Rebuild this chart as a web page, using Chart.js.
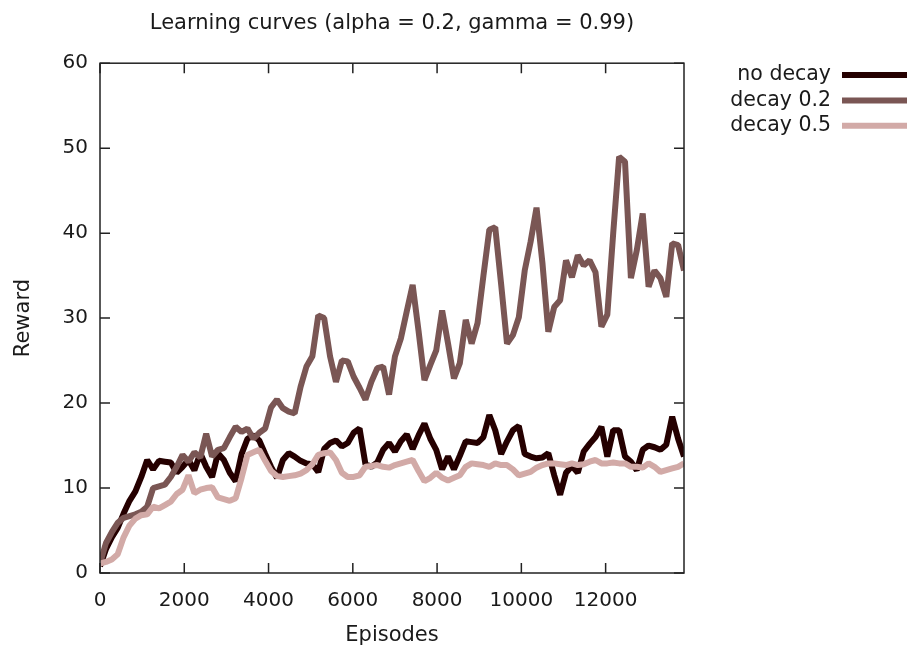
<!DOCTYPE html>
<html>
<head>
<meta charset="utf-8">
<title>Learning curves</title>
<script src="https://cdn.jsdelivr.net/npm/chart.js@4.4.1/dist/chart.umd.min.js"></script>
<style>
  html, body { margin: 0; padding: 0; background: #fff; }
  #wrap { width: 907px; height: 648px; }
</style>
</head>
<body>
<div id="wrap"><canvas id="chart" width="907" height="648"></canvas></div>
<script>
// x positions (episodes) of the averaged points
const episodes = [
  0, 140, 280, 420, 560, 700, 840, 980, 1120, 1260,
  1400, 1540, 1680, 1820, 1960, 2100, 2240, 2380, 2520, 2660,
  2800, 2940, 3080, 3220, 3360, 3500, 3640, 3780, 3920, 4060,
  4200, 4340, 4480, 4620, 4760, 4900, 5040, 5180, 5320, 5460,
  5600, 5740, 5880, 6020, 6160, 6300, 6440, 6580, 6720, 6860,
  7000, 7140, 7280, 7420, 7560, 7700, 7840, 7980, 8120, 8260,
  8400, 8540, 8680, 8820, 8960, 9100, 9240, 9380, 9520, 9660,
  9800, 9940, 10080, 10220, 10360, 10500, 10640, 10780, 10920, 11060,
  11200, 11340, 11480, 11620, 11760, 11900, 12040, 12180, 12320, 12460,
  12600, 12740, 12880, 13020, 13160, 13300, 13440, 13580, 13720, 13860
];

const xTickValues = [0, 2000, 4000, 6000, 8000, 10000, 12000];
const yTickValues = [0, 10, 20, 30, 40, 50, 60];

const noDecay = [
  0.8, 2.8, 4.2, 5.3, 7.0, 8.5, 9.6, 11.3, 13.3, 12.2,
  13.2, 13.1, 13.0, 11.8, 12.5, 13.3, 12.1, 14.1, 12.5, 11.3,
  14.1, 13.3, 11.8, 10.8, 14.0, 15.8, 16.2, 15.6, 14.0, 12.5,
  11.2, 13.3, 14.1, 13.7, 13.2, 12.9, 12.8, 11.9, 14.6, 15.3,
  15.6, 14.9, 15.3, 16.5, 17.0, 12.8, 12.5, 13.0, 14.5, 15.3,
  14.3, 15.5, 16.3, 14.6, 16.2, 17.6, 15.8, 14.5, 12.2, 13.7,
  12.2, 13.8, 15.5, 15.4, 15.3, 16.0, 18.6, 16.8, 14.0, 15.5,
  16.8, 17.3, 14.0, 13.7, 13.5, 13.6, 14.1, 11.5, 9.2, 11.8,
  12.6, 11.8, 14.3, 15.2, 16.0, 17.2, 13.7, 16.8, 16.8, 13.7,
  13.1, 12.1, 14.5, 15.0, 14.8, 14.5, 15.1, 18.4, 15.8, 13.7
];

const decay02 = [
  1.1, 3.5, 4.8, 5.9, 6.5, 6.7, 6.9, 7.2, 7.8, 10.0,
  10.2, 10.4, 11.3, 12.5, 13.9, 13.1, 14.2, 13.6, 16.4, 13.7,
  14.5, 14.7, 16.0, 17.2, 16.6, 17.0, 15.8, 16.5, 17.0, 19.5,
  20.4, 19.4, 19.0, 18.8, 21.9, 24.3, 25.5, 30.3, 30.0, 25.5,
  22.5, 25.0, 24.9, 23.1, 21.8, 20.4, 22.5, 24.1, 24.3, 21.0,
  25.5, 27.6, 30.8, 33.9, 28.5, 22.7, 24.5, 26.2, 30.9, 27.0,
  22.9, 24.7, 29.8, 27.0, 29.4, 35.0, 40.4, 40.7, 34.0, 27.0,
  28.0, 30.1, 35.6, 39.0, 43.0, 36.5, 28.4, 31.3, 32.1, 36.8,
  34.8, 37.4, 36.2, 36.8, 35.4, 29.0, 30.4, 40.0, 49.0, 48.4,
  34.7, 38.0, 42.3, 33.7, 35.6, 34.7, 32.5, 38.8, 38.6, 35.6
];

const decay05 = [
  1.1, 1.3, 1.6, 2.2, 4.2, 5.6, 6.4, 6.8, 6.9, 7.8,
  7.6, 8.0, 8.4, 9.3, 9.8, 11.5, 9.4, 9.8, 10.0, 10.1,
  8.9, 8.7, 8.5, 8.8, 11.2, 13.9, 14.2, 14.5, 13.2, 12.0,
  11.4, 11.3, 11.4, 11.5, 11.7, 12.1, 12.8, 13.9, 14.1, 14.2,
  13.3, 11.8, 11.3, 11.3, 11.5, 12.5, 12.6, 12.7, 12.5, 12.4,
  12.7, 12.9, 13.1, 13.3, 12.0, 10.8, 11.2, 11.8, 11.2, 10.9,
  11.2, 11.5, 12.5, 12.9, 12.8, 12.7, 12.5, 12.9, 12.7, 12.7,
  12.2, 11.5, 11.7, 11.9, 12.4, 12.7, 12.9, 12.9, 12.8, 12.7,
  12.9, 12.7, 12.8, 13.1, 13.3, 12.9, 12.9, 13.0, 12.9, 12.9,
  12.5, 12.5, 12.4, 12.9, 12.5, 11.9, 12.1, 12.3, 12.5, 12.9
];

const seriesNames = ['no decay', 'decay 0.2', 'decay 0.5'];
const seriesColors = ['#250000', '#7a5654', '#d2aaa7'];

const FONT = 'DejaVu Sans, Verdana, sans-serif';
const TEXT = '#1a1a1a';

const toPoints = vals => vals.map((v, i) => ({ x: episodes[i], y: v }));

// gnuplot-like box with inward (mirrored) tics
const framePlugin = {
  id: 'frame',
  afterDatasetsDraw(chart) {
    const { ctx, chartArea: a, scales: { x, y } } = chart;
    ctx.save();
    ctx.strokeStyle = '#222';
    ctx.lineWidth = 1.5;
    ctx.strokeRect(a.left, a.top, a.right - a.left, a.bottom - a.top);
    ctx.beginPath();
    x.ticks.forEach(t => {
      const px = x.getPixelForValue(t.value);
      ctx.moveTo(px, a.bottom); ctx.lineTo(px, a.bottom - 10);
      ctx.moveTo(px, a.top); ctx.lineTo(px, a.top + 10);
    });
    y.ticks.forEach(t => {
      const py = y.getPixelForValue(t.value);
      ctx.moveTo(a.left, py); ctx.lineTo(a.left + 10, py);
      ctx.moveTo(a.right, py); ctx.lineTo(a.right - 10, py);
    });
    ctx.stroke();
    ctx.restore();
  }
};

// legend outside the plot: text right-aligned, then a line sample
const keyPlugin = {
  id: 'key',
  afterDraw(chart) {
    const { ctx } = chart;
    ctx.save();
    ctx.font = '20.5px ' + FONT;
    ctx.textAlign = 'right';
    ctx.textBaseline = 'middle';
    chart.data.datasets.forEach((ds, i) => {
      const yy = 75 + i * 25.4;
      ctx.fillStyle = TEXT;
      ctx.fillText(ds.label, 831, yy);
      ctx.strokeStyle = ds.borderColor;
      ctx.lineWidth = 6;
      ctx.beginPath();
      ctx.moveTo(842, yy);
      ctx.lineTo(907, yy);
      ctx.stroke();
    });
    ctx.restore();
  }
};

const datasets = [noDecay, decay02, decay05].map((vals, i) => ({
  label: seriesNames[i],
  data: toPoints(vals),
  borderColor: seriesColors[i],
  backgroundColor: seriesColors[i],
  borderWidth: 6,
  borderJoinStyle: 'bevel',
  pointRadius: 0,
  tension: 0,
  fill: false,
  order: 3 - i // later series drawn on top, like gnuplot
}));

new Chart(document.getElementById('chart'), {
  type: 'line',
  data: { datasets },
  options: {
    responsive: false,
    animation: false,
    layout: { padding: { left: 0, right: 223, top: 0, bottom: 0 } },
    plugins: {
      legend: { display: false },
      tooltip: { enabled: false },
      title: {
        display: true,
        text: 'Learning curves (alpha = 0.2, gamma = 0.99)',
        fullSize: false,
        color: TEXT,
        font: { family: FONT, size: 21, weight: 'normal' },
        padding: { top: 11, bottom: 27 }
      }
    },
    scales: {
      x: {
        type: 'linear',
        min: 0,
        max: 13860,
        grid: { display: false, drawTicks: false },
        border: { display: false },
        afterBuildTicks(scale) {
          scale.ticks = xTickValues.map(v => ({ value: v }));
        },
        ticks: {
          maxRotation: 0,
          autoSkip: false,
          padding: 16,
          color: TEXT,
          font: { family: FONT, size: 20 },
          callback: v => String(v)
        },
        title: {
          display: true,
          text: 'Episodes',
          color: TEXT,
          font: { family: FONT, size: 21 },
          padding: { top: 0, bottom: 0 }
        },
        afterFit(scale) { scale.height = 75; }
      },
      y: {
        min: 0,
        max: 60,
        grid: { display: false, drawTicks: false },
        border: { display: false },
        afterBuildTicks(scale) {
          scale.ticks = yTickValues.map(v => ({ value: v }));
        },
        ticks: {
          padding: 12,
          color: TEXT,
          font: { family: FONT, size: 20 },
          callback: v => String(v)
        },
        title: {
          display: true,
          text: 'Reward',
          color: TEXT,
          font: { family: FONT, size: 21 },
          padding: { top: 11, bottom: 0 }
        },
        afterFit(scale) { scale.width = 100; }
      }
    }
  },
  plugins: [framePlugin, keyPlugin]
});
</script>
</body>
</html>
